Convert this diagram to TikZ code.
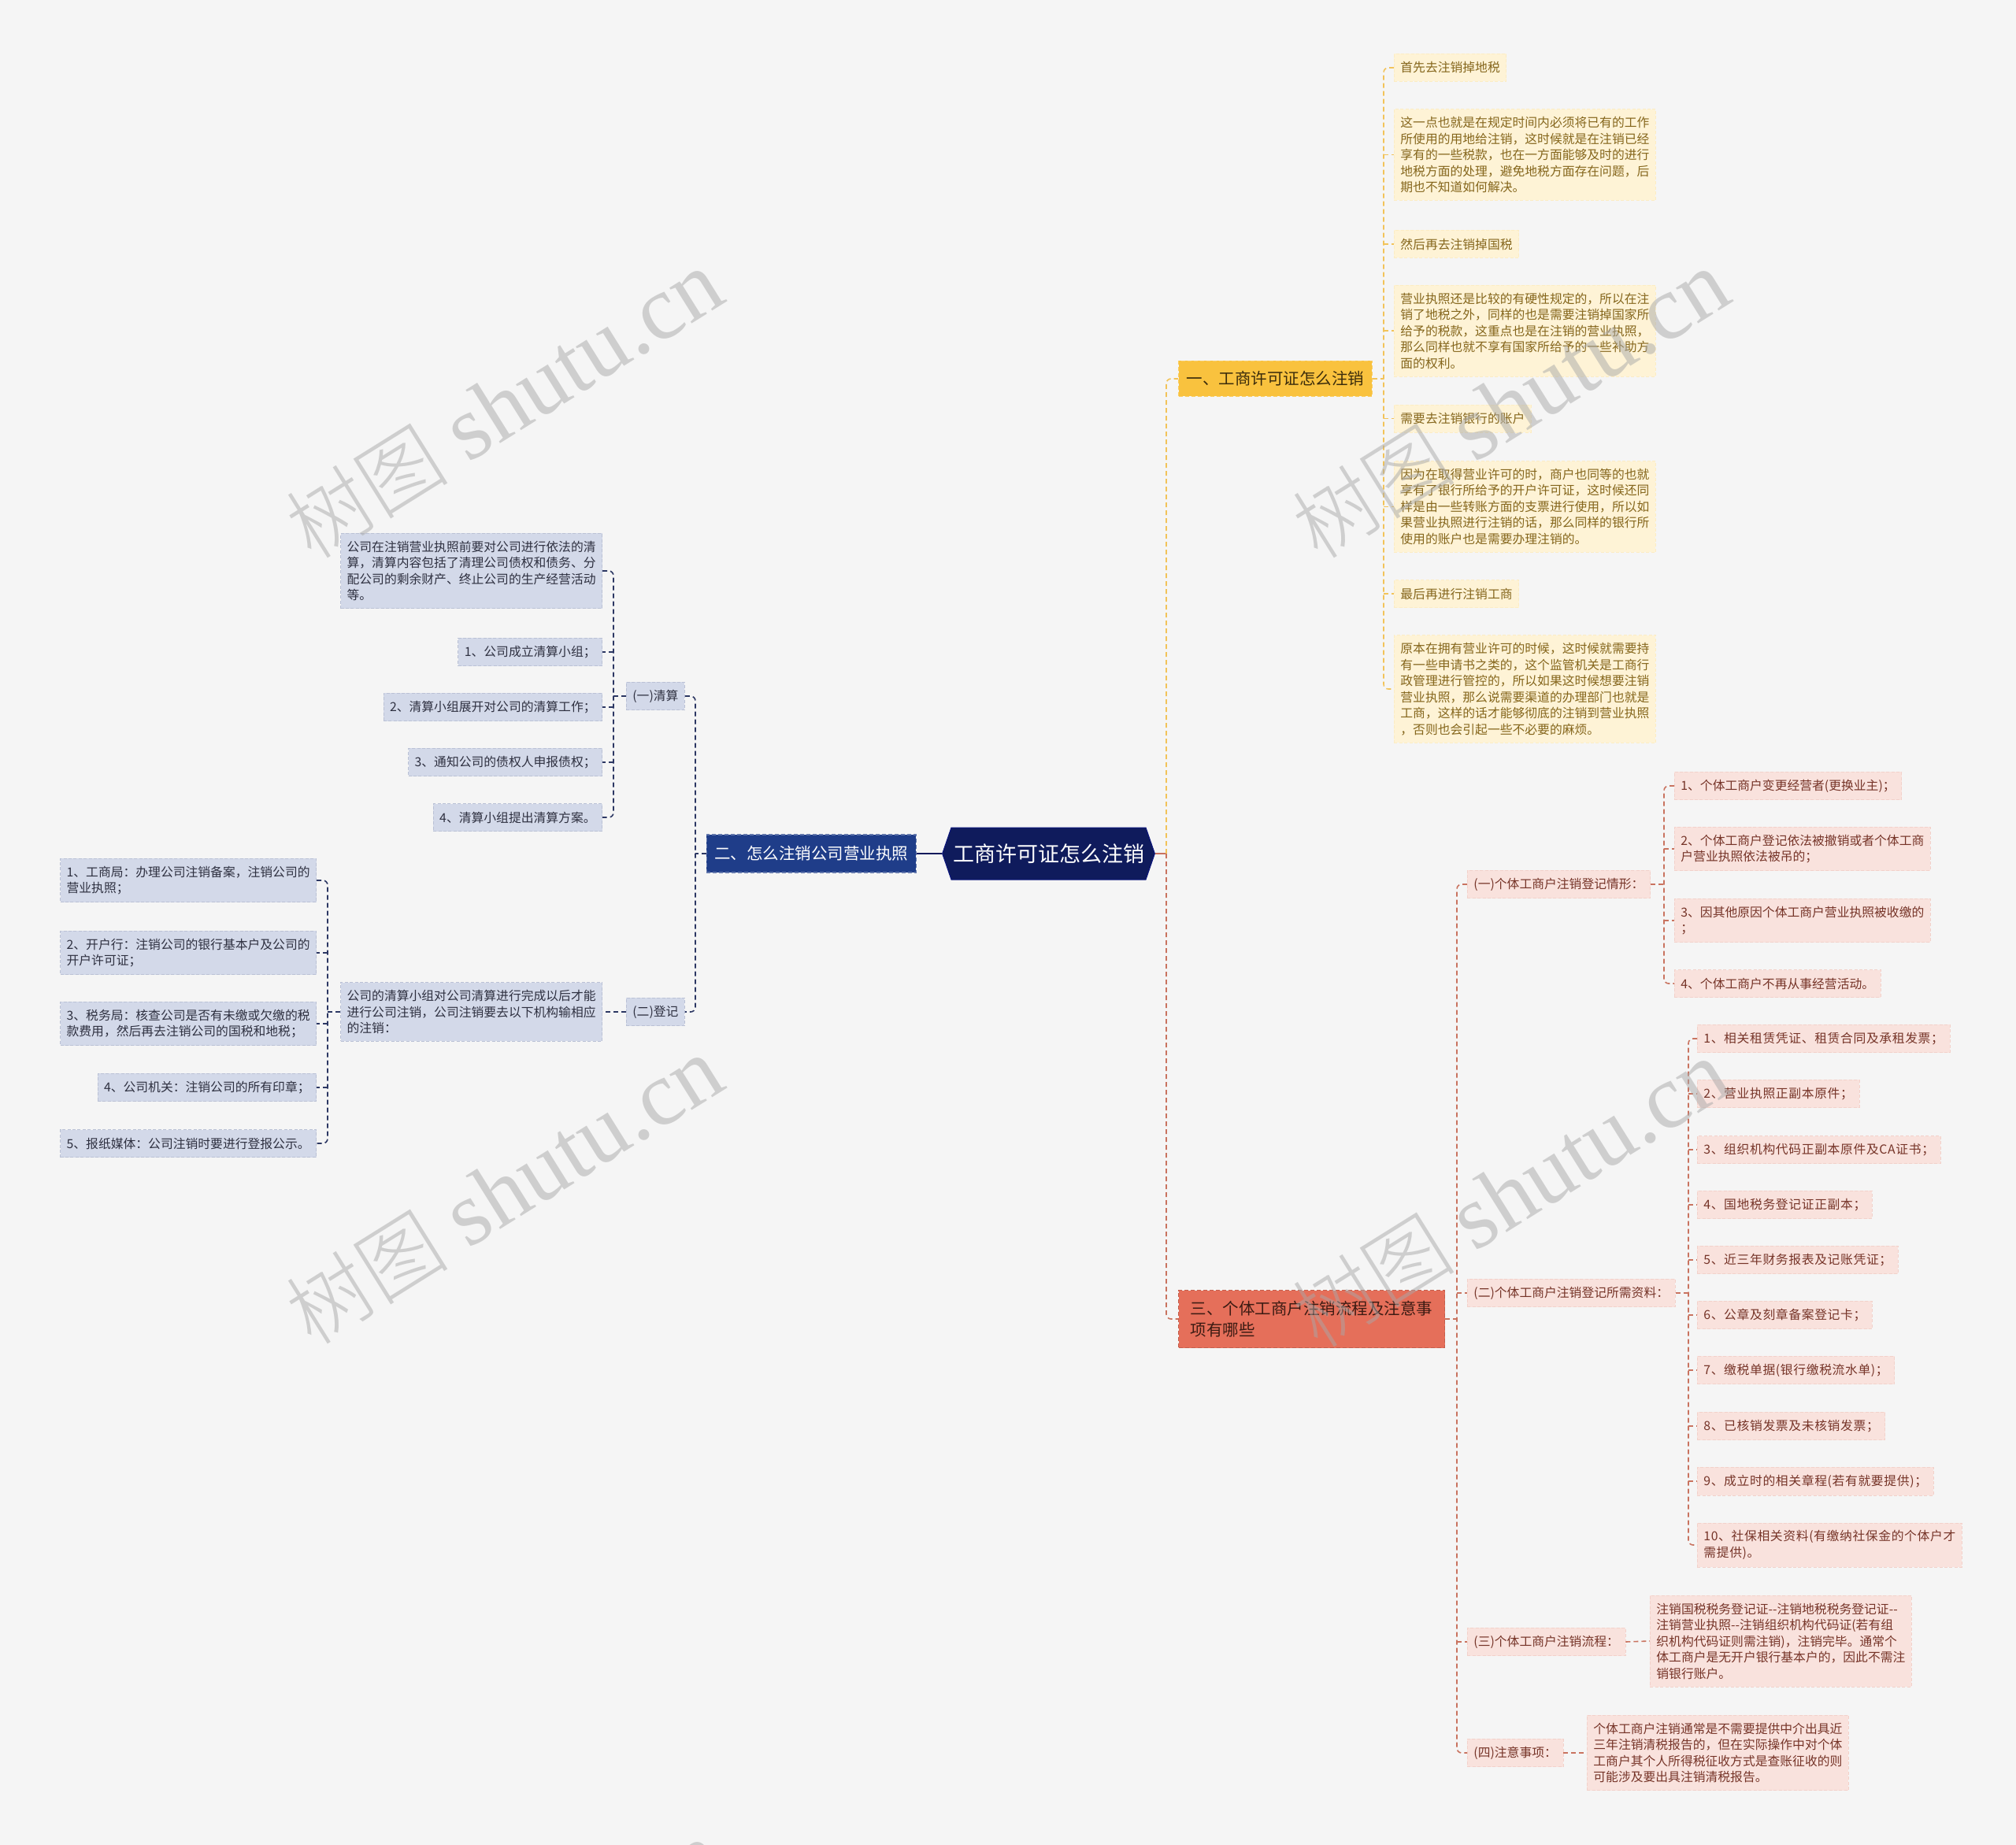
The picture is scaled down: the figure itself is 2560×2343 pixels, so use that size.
\documentclass[tikz,border=0pt]{standalone}
\usepackage{fontspec}
\setmainfont{Noto Sans CJK SC}
\newfontfamily\wmlat{Liberation Serif}
\newfontfamily\wmcjk{Noto Sans CJK SC Light}
\usetikzlibrary{shapes.symbols}
\definecolor{bgc}{HTML}{F5F5F5}
\definecolor{yfill}{HTML}{FEF3D6}
\definecolor{ytext}{HTML}{85661C}
\definecolor{ycon}{HTML}{F2C359}
\definecolor{ymain}{HTML}{F9C23E}
\definecolor{ymaintext}{HTML}{3B2C0C}
\definecolor{bfill}{HTML}{D3D9E9}
\definecolor{btext}{HTML}{2E3040}
\definecolor{bcon}{HTML}{2C3763}
\definecolor{bmain}{HTML}{1F3D89}
\definecolor{hexc}{HTML}{0F1B5C}
\definecolor{rfill}{HTML}{F9E2DD}
\definecolor{rtext}{HTML}{763428}
\definecolor{rcon}{HTML}{C9735F}
\definecolor{rmain}{HTML}{E56F5A}
\definecolor{rmaintext}{HTML}{3C1B13}
\definecolor{wmc}{HTML}{A8A8A8}
\tikzset{
  leafbase/.style={anchor=west, align=left, inner xsep=4pt, inner ysep=4.8pt, minimum height=17.5pt,
    font=\fontsize{7.9pt}{10.25pt}\selectfont, line width=0.4pt, dash pattern=on 2pt off 1.2pt},
  yleaf/.style={leafbase, fill=yfill, draw=yfill!85!ycon, text=ytext},
  bleaf/.style={leafbase, fill=bfill, draw=bfill!85!bcon, text=btext},
  rleaf/.style={leafbase, fill=rfill, draw=rfill!85!rcon, text=rtext},
  rwide/.style={rleaf, font=\fontsize{7.9pt}{10.25pt}\selectfont\addfontfeatures{LetterSpace=4}},
  conbase/.style={line width=0.8pt, dash pattern=on 3pt off 2pt, rounded corners=3pt},
  ycn/.style={conbase, draw=ycon},
  bcn/.style={conbase, draw=bcon},
  rcn/.style={conbase, draw=rcon},
  mainbase/.style={font=\fontsize{10.25pt}{13.5pt}\selectfont, inner xsep=5pt, line width=0.6pt, dash pattern=on 2.5pt off 1.5pt},
  ymainnode/.style={mainbase, anchor=west, fill=ymain, draw=ymain!80!white, text=ymaintext, minimum width=122.5pt, minimum height=22.5pt},
  bmainnode/.style={mainbase, anchor=east, fill=bmain, draw=bmain!70!white, text=white, minimum width=133pt, minimum height=24pt},
  rmainnode/.style={mainbase, anchor=west, align=left, fill=rmain, draw=rmain!85!black, text=rmaintext, inner xsep=7.6pt, minimum height=36.5pt},
  hexnode/.style={shape=signal, signal to=west and east, signal pointer angle=142, fill=hexc, draw=hexc!80!blue, line width=0.5pt, text=white,
    font=\fontsize{13.5pt}{16pt}\selectfont, minimum width=134.5pt, minimum height=33pt, inner sep=1pt},
  wm/.style={text=wmc, opacity=0.5, rotate=32, font=\fontsize{58pt}{60pt}\selectfont}
}
\begin{document}
\begin{tikzpicture}[x=0.5pt,y=-0.5pt]
\useasboundingbox (0,0) rectangle (2560,2343);
\fill[bgc] (0,0) rectangle (2560,2343);

% ---------- centre ----------
\node[hexnode] (C) at (1331.5,1084) {工商许可证怎么注销};

% ---------- yellow branch ----------
\node[ymainnode] (Y) at (1496,481) {一、工商许可证怎么注销};
\node[yleaf] (L1) at (1770,86) {首先去注销掉地税};
\node[yleaf] (L2) at (1770,196.5) {这一点也就是在规定时间内必须将已有的工作\\所使用的用地给注销，这时候就是在注销已经\\享有的一些税款，也在一方面能够及时的进行\\地税方面的处理，避免地税方面存在问题，后\\期也不知道如何解决。};
\node[yleaf] (L3) at (1770,310) {然后再去注销掉国税};
\node[yleaf] (L4) at (1770,420) {营业执照还是比较的有硬性规定的，所以在注\\销了地税之外，同样的也是需要注销掉国家所\\给予的税款，这重点也是在注销的营业执照，\\那么同样也就不享有国家所给予的一些补助方\\面的权利。};
\node[yleaf] (L5) at (1770,531.5) {需要去注销银行的账户};
\node[yleaf] (L6) at (1770,643.5) {因为在取得营业许可的时，商户也同等的也就\\享有了银行所给予的开户许可证，这时候还同\\样是由一些转账方面的支票进行使用，所以如\\果营业执照进行注销的话，那么同样的银行所\\使用的账户也是需要办理注销的。};
\node[yleaf] (L7) at (1770,754) {最后再进行注销工商};
\node[yleaf] (L8) at (1770,875) {原本在拥有营业许可的时候，这时候就需要持\\有一些申请书之类的，这个监管机关是工商行\\政管理进行管控的，所以如果这时候想要注销\\营业执照，那么说需要渠道的办理部门也就是\\工商，这样的话才能够彻底的注销到营业执照\\，否则也会引起一些不必要的麻烦。};

% ---------- blue branch ----------
\node[bmainnode] (B) at (1164,1084) {二、怎么注销公司营业执照};
\node[bleaf] (Q1) at (795,884) {(一)清算};
\node[bleaf] (Q2) at (795,1285) {(二)登记};
\node[bleaf, anchor=east] (P0) at (765,725) {公司在注销营业执照前要对公司进行依法的清\\算，清算内容包括了清理公司债权和债务、分\\配公司的剩余财产、终止公司的生产经营活动\\等。};
\node[bleaf, anchor=east] (Q11) at (765,828) {1、公司成立清算小组；};
\node[bleaf, anchor=east] (Q12) at (765,898) {2、清算小组展开对公司的清算工作；};
\node[bleaf, anchor=east] (Q13) at (765,968) {3、通知公司的债权人申报债权；};
\node[bleaf, anchor=east] (Q14) at (765,1038) {4、清算小组提出清算方案。};
\node[bleaf, anchor=east] (D) at (765,1285) {公司的清算小组对公司清算进行完成以后才能\\进行公司注销，公司注销要去以下机构输相应\\的注销：};
\node[bleaf, anchor=east] (E1) at (402,1118) {1、工商局：办理公司注销备案，注销公司的\\营业执照；};
\node[bleaf, anchor=east] (E2) at (402,1210) {2、开户行：注销公司的银行基本户及公司的\\开户许可证；};
\node[bleaf, anchor=east] (E3) at (402,1300) {3、税务局：核查公司是否有未缴或欠缴的税\\款费用，然后再去注销公司的国税和地税；};
\node[bleaf, anchor=east] (E4) at (402,1381) {4、公司机关：注销公司的所有印章；};
\node[bleaf, anchor=east] (E5) at (402,1452) {5、报纸媒体：公司注销时要进行登报公示。};

% ---------- red branch ----------
\node[rmainnode] (R) at (1496,1675) {三、个体工商户注销流程及注意事\\项有哪些};
\node[rleaf] (S1) at (1863,1123) {(一)个体工商户注销登记情形：};
\node[rleaf] (S2) at (1863,1642) {(二)个体工商户注销登记所需资料：};
\node[rleaf] (S3) at (1863,2085) {(三)个体工商户注销流程：};
\node[rleaf] (S4) at (1863,2226) {(四)注意事项：};
\node[rleaf] (A1) at (2126,998) {1、个体工商户变更经营者(更换业主)；};
\node[rleaf] (A2) at (2126,1078) {2、个体工商户登记依法被撤销或者个体工商\\户营业执照依法被吊的；};
\node[rleaf] (A3) at (2126,1169) {3、因其他原因个体工商户营业执照被收缴的\\；};
\node[rleaf] (A4) at (2126,1249) {4、个体工商户不再从事经营活动。};
\node[rwide] (M1) at (2155,1319) {1、相关租赁凭证、租赁合同及承租发票；};
\node[rwide] (M2) at (2155,1389) {2、营业执照正副本原件；};
\node[rwide] (M3) at (2155,1460) {3、组织机构代码正副本原件及CA证书；};
\node[rwide] (M4) at (2155,1530) {4、国地税务登记证正副本；};
\node[rwide] (M5) at (2155,1600) {5、近三年财务报表及记账凭证；};
\node[rwide] (M6) at (2155,1670) {6、公章及刻章备案登记卡；};
\node[rwide] (M7) at (2155,1740) {7、缴税单据(银行缴税流水单)；};
\node[rwide] (M8) at (2155,1811) {8、已核销发票及未核销发票；};
\node[rwide] (M9) at (2155,1881) {9、成立时的相关章程(若有就要提供)；};
\node[rwide] (M10) at (2155,1962) {10、社保相关资料(有缴纳社保金的个体户才\\需提供)。};
\node[rleaf] (F) at (2095,2084) {注销国税税务登记证-{}-注销地税税务登记证-{}-\\注销营业执照-{}-注销组织机构代码证(若有组\\织机构代码证则需注销)，注销完毕。通常个\\体工商户是无开户银行基本户的，因此不需注\\销银行账户。};
\node[rleaf] (G) at (2015,2226) {个体工商户注销通常是不需要提供中介出具近\\三年注销清税报告的，但在实际操作中对个体\\工商户其个人所得税征收方式是查账征收的则\\可能涉及要出具注销清税报告。};

% ---------- trunk coordinates ----------
\coordinate (tM) at (1481,0);
\coordinate (tY) at (1757,0);
\coordinate (tB) at (883,0);
\coordinate (tQ) at (779,0);
\coordinate (tD) at (416,0);
\coordinate (tR) at (1850,0);
\coordinate (tA) at (2113,0);
\coordinate (tS) at (2144,0);

% ---------- connectors ----------
\draw[draw=hexc, line width=1.2pt] (C.west) -- (B.east);
\draw[draw=rcon, line width=1.2pt] (C.east) -- (tM |- C.east);
\draw[ycn] (tM |- C.east) |- (Y.west);
\draw[rcn] (tM |- C.east) |- (R.west);

\draw[ycn] (L1.west) -| (tY |- L8.west) -- (L8.west);
\foreach \n in {L2,L3,L4,L5,L6,L7} \draw[ycn] (tY |- \n.west) -- (\n.west);
\draw[ycn] (Y.east) -- (tY |- Y.east);

\draw[bcn] (Q1.east) -| (tB |- Q2.east) -- (Q2.east);
\draw[bcn] (B.west) -- (tB |- B.west);
\draw[bcn] (P0.east) -| (tQ |- Q14.east) -- (Q14.east);
\foreach \n in {Q11,Q12,Q13} \draw[bcn] (tQ |- \n.east) -- (\n.east);
\draw[bcn] (Q1.west) -- (tQ |- Q1.west);
\draw[bcn] (Q2.west) -- (D.east);
\draw[bcn] (E1.east) -| (tD |- E5.east) -- (E5.east);
\foreach \n in {E2,E3,E4} \draw[bcn] (tD |- \n.east) -- (\n.east);
\draw[bcn] (D.west) -- (tD |- D.west);

\draw[rcn] (S1.west) -| (tR |- S4.west) -- (S4.west);
\foreach \n in {S2,S3} \draw[rcn] (tR |- \n.west) -- (\n.west);
\draw[rcn] (R.east) -- (tR |- R.east);
\draw[rcn] (A1.west) -| (tA |- A4.west) -- (A4.west);
\foreach \n in {A2,A3} \draw[rcn] (tA |- \n.west) -- (\n.west);
\draw[rcn] (S1.east) -- (tA |- S1.east);
\draw[rcn] (M1.west) -| (tS |- M10.west) -- (M10.west);
\foreach \n in {M2,M3,M4,M5,M6,M7,M8,M9} \draw[rcn] (tS |- \n.west) -- (\n.west);
\draw[rcn] (S2.east) -- (tS |- S2.east);
\draw[rcn] (S3.east) -- (F.west);
\draw[rcn] (S4.east) -- (G.west);

% ---------- watermarks ----------
\node[wm] (W1) at (640,514) {{\wmcjk\fontsize{52pt}{56pt}\selectfont 树图} {\wmlat shutu.cn}};
\node[wm] (W2) at (1918,514) {{\wmcjk\fontsize{52pt}{56pt}\selectfont 树图} {\wmlat shutu.cn}};
\node[wm] (W3) at (640,1512) {{\wmcjk\fontsize{52pt}{56pt}\selectfont 树图} {\wmlat shutu.cn}};
\node[wm] (W4) at (1918,1516) {{\wmcjk\fontsize{52pt}{56pt}\selectfont 树图} {\wmlat shutu.cn}};
\node[wm] (W5) at (640,2508) {{\wmcjk\fontsize{52pt}{56pt}\selectfont 树图} {\wmlat shutu.cn}};
\node[wm] (W6) at (1918,2512) {{\wmcjk\fontsize{52pt}{56pt}\selectfont 树图} {\wmlat shutu.cn}};
\end{tikzpicture}
\end{document}
